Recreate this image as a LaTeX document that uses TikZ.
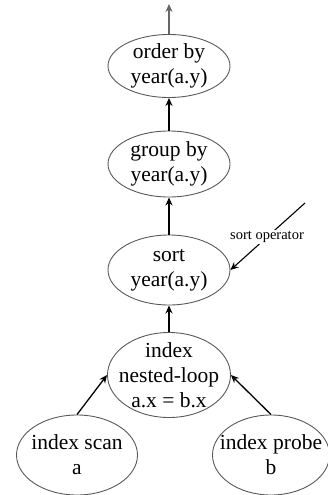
\documentclass[tikz,border=0pt]{standalone}
\usepackage{fontspec}
\setmainfont{Liberation Serif}
\usetikzlibrary{shapes.geometric,arrows.meta}
\begin{document}
\begin{tikzpicture}[x=1pt,y=-1pt,
  op/.style={ellipse,draw=black!65,line width=0.9pt,inner sep=0pt},
  txt/.style={align=center,inner sep=0pt,font=\fontsize{21.5}{25}\selectfont},
  flow/.style={line width=1.3pt,-{Stealth[length=8pt,width=7pt]}},
  lbl/.style={font=\fontsize{14.5}{16}\selectfont,fill=white,inner sep=1pt}]
\useasboundingbox (0,0) rectangle (328,495);
\node[op,minimum width=122pt,minimum height=63pt] (order) at (169,66) {};
\node[op,minimum width=122pt,minimum height=66pt] (group) at (169,164) {};
\node[op,minimum width=122pt,minimum height=70pt] (sort) at (169,270) {};
\node[op,minimum width=123pt,minimum height=85pt] (inl) at (169,375) {};
\node[op,minimum width=121pt,minimum height=80pt] (scan) at (77,455) {};
\node[op,minimum width=117pt,minimum height=80pt] (probe) at (271,455) {};
\node[txt] (ordert) at (order) {order by\\year(a.y)};
\node[txt] (groupt) at (group) {group by\\year(a.y)};
\node[txt] (sortt) at (sort) {sort\\year(a.y)};
\node[txt] (inlt) at (inl) {index\\nested-loop\\a.x = b.x};
\node[txt] (scant) at (scan) {index scan\\a};
\node[txt] (probet) at (probe) {index probe\\b};
\coordinate (top) at (169,4);
\coordinate (soc) at (305,203);
\draw[flow,black!60] (order) -- (top);
\draw[flow] (group) -- (order);
\draw[flow] (sort) -- (group);
\draw[flow] (inl) -- (sort);
\draw[flow] (scan.north) -- (inl.west);
\draw[flow] (probe.north) -- (inl.east);
\draw[flow,line width=1.1pt] (soc) -- (sort.east);
\node[lbl] (solab) at (267,237) {sort operator};
\end{tikzpicture}
\end{document}
